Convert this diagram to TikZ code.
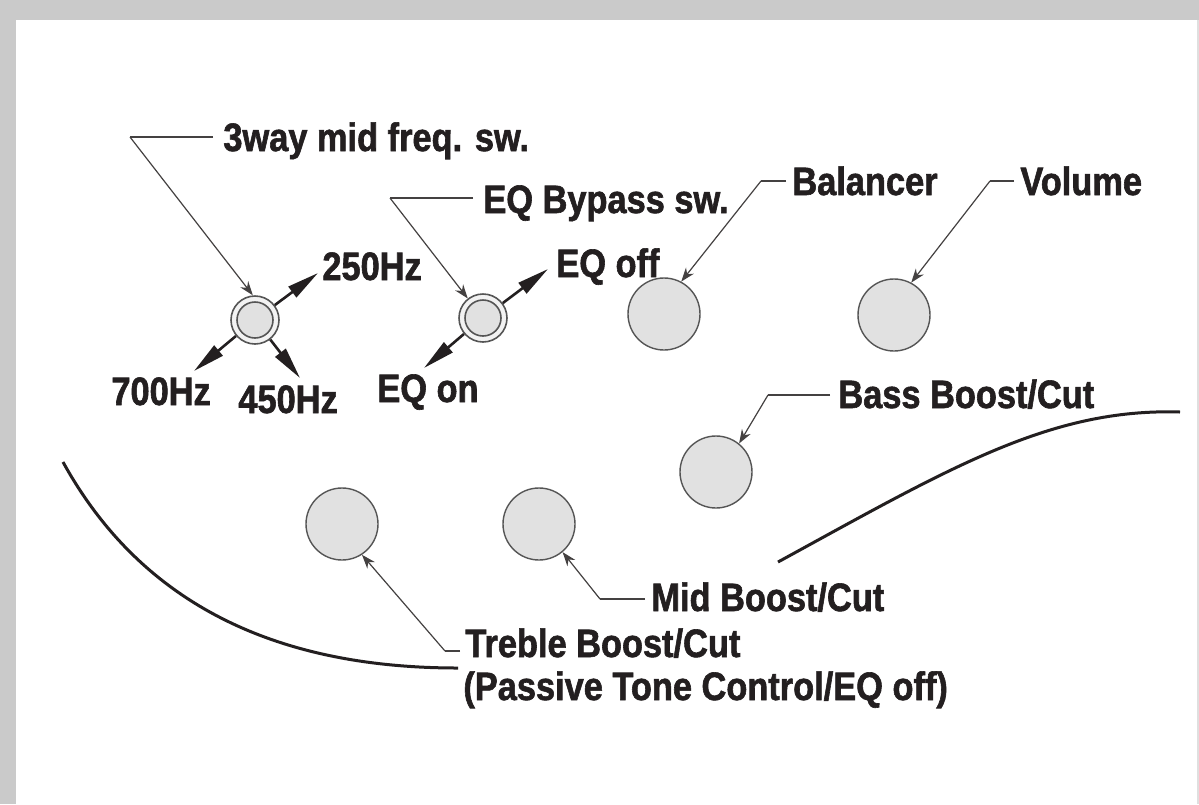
\documentclass[tikz,border=0pt]{standalone}
\usepackage{fontspec}
\setmainfont{Liberation Sans}[FakeStretch=0.868, BoldFeatures={FakeBold=1.5}]
\usetikzlibrary{arrows.meta}
\definecolor{ink}{HTML}{231F20}
\definecolor{knobfill}{HTML}{E1E1E1}
\definecolor{knobline}{HTML}{555555}
\definecolor{ringfill}{HTML}{F2F2F2}
\definecolor{frame}{HTML}{CACACA}
\begin{document}
\begin{tikzpicture}[x=0.5pt,y=-0.5pt,
  lbl/.style={font=\fontsize{19.8pt}{22pt}\selectfont\bfseries, text=ink, inner sep=0pt, anchor=base west},
  knob/.style={circle, draw=knobline, fill=knobfill, line width=0.7pt, minimum size=36pt, inner sep=0pt},
  swouter/.style={circle, draw=knobline, fill=ringfill, line width=0.8pt, minimum size=24pt, inner sep=0pt},
  swinner/.style={circle, draw=knobline, fill=knobfill, line width=0.8pt, minimum size=18pt, inner sep=0pt},
  leader/.style={draw=ink!85, line width=0.6pt},
  leadarrow/.style={leader, -{Stealth[length=7pt,width=5pt]}},
  swarrow/.style={draw=ink, line width=1.3pt, -{Triangle[length=16pt,width=6.5pt]}},
  body/.style={draw=ink, line width=1.5pt},
]
% frame
\fill[white] (0,0) rectangle (1199,804);
\fill[frame] (0,0) rectangle (1199,20);
\fill[frame] (0,0) rectangle (16,804);
\fill[frame!60] (1197,20) rectangle (1199,804);
\useasboundingbox (0,0) rectangle (1199,804);

% body outline
\coordinate (bl1) at (63,462);
\coordinate (bl2) at (458,668);
\coordinate (br1) at (778,562);
\coordinate (br2) at (1180,412);
\draw[body] (bl1) .. controls (150,620) and (300,668) .. (bl2);
\draw[body] (br1) .. controls (950,468) and (1050,408) .. (br2);

% knobs
\node[knob] (bal) at (664,314) {};
\node[knob] (vol) at (894,315) {};
\node[knob] (bass) at (716,472) {};
\node[knob] (treb) at (342,524) {};
\node[knob] (mid) at (539,524) {};

% switches
\node[swouter] (sw3) at (255,320) {};
\node[swinner] (sw3i) at (255,320) {};
\node[swouter] (sweq) at (483,318) {};
\node[swinner] (sweqi) at (483,318) {};

% labels
\node[lbl] (t3) at (223,151) {3way mid freq. sw.};
\node[lbl] (teq) at (483,213) {EQ Bypass sw.};
\node[lbl] (tbal) at (792,195) {Balancer};
\node[lbl] (tvol) at (1020,195) {Volume};
\node[lbl] (t250) at (322,280) {250Hz};
\node[lbl] (teqoff) at (556,277) {EQ off};
\node[lbl] (t700) at (111,405) {700Hz};
\node[lbl] (t450) at (238,413) {450Hz};
\node[lbl] (teqon) at (377,402) {EQ on};
\node[lbl] (tbass) at (838,408) {Bass Boost/Cut};
\node[lbl] (tmid) at (651,611) {Mid Boost/Cut};
\node[lbl] (ttreb) at (465,657) {Treble Boost/Cut};
\node[lbl] (ttreb2) at (463,700) {(Passive Tone Control/EQ off)};

% switch position arrows
\coordinate (a250) at (318,273);
\coordinate (a700) at (194,371);
\coordinate (a450) at (300,378);
\coordinate (aoff) at (548,269);
\coordinate (aon) at (424,368);
\draw[swarrow] (sw3.37) -- (a250);
\draw[swarrow] (sw3.220) -- (a700);
\draw[swarrow] (sw3.-52) -- (a450);
\draw[swarrow] (sweq.37) -- (aoff);
\draw[swarrow] (sweq.220) -- (aon);

% leaders
\coordinate (c3) at (130,137);   \coordinate (e3) at (213,137);
\coordinate (ceq) at (390,198);  \coordinate (eeq) at (473,198);
\coordinate (cbal) at (761,181); \coordinate (ebal) at (786,181);
\coordinate (cvol) at (990,181); \coordinate (evol) at (1014,181);
\coordinate (cbass) at (768,395);\coordinate (ebass) at (830,395);
\coordinate (cmid) at (600,599); \coordinate (emid) at (645,599);
\coordinate (ctreb) at (445,651);\coordinate (etreb) at (460,651);

\draw[leader] (e3) -- (c3);
\draw[leadarrow] (c3) -- (sw3.95);
\draw[leader] (eeq) -- (ceq);
\draw[leadarrow] (ceq) -- (sweq.128);
\draw[leader] (ebal) -- (cbal);
\draw[leadarrow] (cbal) -- (bal.62);
\draw[leader] (evol) -- (cvol);
\draw[leadarrow] (cvol) -- (vol.62);
\draw[leader] (ebass) -- (cbass);
\draw[leadarrow] (cbass) -- (bass.51);
\draw[leader] (emid) -- (cmid);
\draw[leadarrow] (cmid) -- (mid.-50);
\draw[leader] (etreb) -- (ctreb);
\draw[leadarrow] (ctreb) -- (treb.-57);
\end{tikzpicture}
\end{document}
